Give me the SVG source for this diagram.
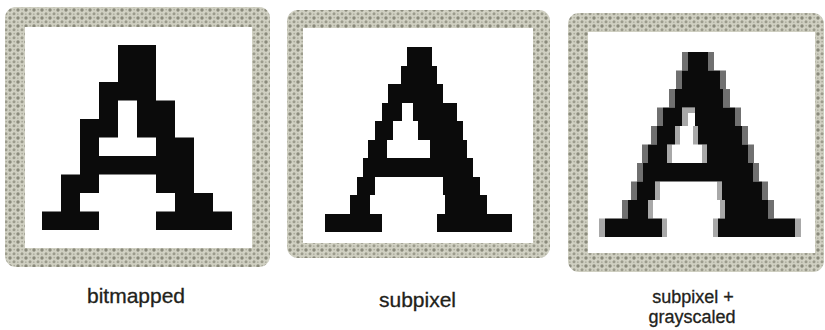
<svg xmlns="http://www.w3.org/2000/svg" width="825" height="330" viewBox="0 0 825 330">
<style>
.frame{fill:url(#tex)}
.inner{fill:#ffffff}
.ink{fill:#0b0b0b}
.g1{fill:#707070}
.g2{fill:#a8a8a8}
.label{font-family:"Liberation Sans",Arial,sans-serif;fill:#22221a;text-anchor:middle;stroke:#22221a;stroke-width:0.3}
</style>
<defs>
<pattern id="tex" width="8" height="8" patternUnits="userSpaceOnUse">
<rect width="8" height="8" fill="#d0d0c2"/>
<circle cx="2" cy="2" r="1.7" fill="#8a8a7b"/>
<circle cx="6" cy="5.8" r="1.5" fill="#9b9b8c"/>
<circle cx="6.2" cy="1.6" r="0.9" fill="#acac9d"/>
<circle cx="1.8" cy="6.2" r="0.9" fill="#b0b0a2"/>
<circle cx="4" cy="4" r="0.5" fill="#e4e4da"/>
</pattern>
</defs>
<rect width="825" height="330" fill="#ffffff"/>

<g id="panel-bitmapped">
<rect class="frame" x="5" y="7" width="265" height="260" rx="11"/>
<rect class="inner" x="25" y="27" width="227" height="221"/>
<path class="ink" transform="translate(42,45) scale(19,18.5)" d="M4 0h2v2h-2z M3 2h3v1h-3z M3 3h1v1h-1z M5 3h2v2h-2z M2 4h2v1h-2z M2 5h1v1h-1z M6 5h2v1h-2z M2 6h6v1h-6z M1 7h2v1h-2z M6 7h2v1h-2z M1 8h1v1h-1z M7 8h2v1h-2z M0 9h3v1h-3z M6 9h4v1h-4z"/>
<text class="label" x="136" y="302.5" font-size="21">bitmapped</text>
</g>

<g id="panel-subpixel">
<rect class="frame" x="287" y="10" width="263" height="248" rx="11"/>
<rect class="inner" x="303" y="28" width="230" height="215"/>
<path class="ink" d="M407 47H432V66H407Z M401 66H437V84H401Z M388 84H443V103H388Z M382 103H402V121H382Z M413 103H457V121H413Z M375 121H393V140H375Z M418 121H463V140H418Z M368 140H387V158H368Z M430 140H467V158H430Z M363 158H473V177H363Z M357 177H375V195H357Z M443 177H480V195H443Z M350 195H370V214H350Z M445 195H487V214H445Z M325 214H382V232H325Z M437 214H512V232H437Z"/>
<text class="label" x="417.5" y="307" font-size="21">subpixel</text>
</g>

<g id="panel-grayscaled">
<rect class="frame" x="568" y="13" width="256" height="259" rx="11"/>
<rect class="inner" x="588" y="32" width="227" height="221"/>
<path class="g1" d="M682 52H688V70.5H682Z M708 52H714V70.5H708Z M676 70.5H682V89H676Z M720 70.5H726V89H720Z M669 89H675V107.5H669Z M723 89H730V107.5H723Z M657 107.5H663V126H657Z M735 107.5H741V126H735Z M651 126H657V144.5H651Z M742 126H748V144.5H742Z M642 144.5H648V163H642Z M748 144.5H754V163H748Z M637 163H643V181.5H637Z M753 163H759V181.5H753Z M631 181.5H637V200H631Z M762 181.5H768V200H762Z M622 200H628V218.5H622Z M768 200H774V218.5H768Z"/>
<path class="g2" d="M682 107.5H688V126H682Z M688 107.5H695V113H688Z M675 126H680V144.5H675Z M693 126H698V144.5H693Z M667 144.5H672V163H667Z M702 144.5H707V163H702Z M655 181.5H660V200H655Z M717 181.5H722V200H717Z M648 200H653V218.5H648Z M720 200H725V218.5H720Z M599 218.5H605V237H599Z M795 218.5H801V237H795Z M662 218.5H667V237H662Z M713 218.5H718V237H713Z"/>
<path class="ink" d="M688 52H708V70.5H688Z M682 70.5H720V89H682Z M675 89H723V107.5H675Z M663 107.5H682V126H663Z M695 107.5H735V126H695Z M657 126H675V144.5H657Z M698 126H742V144.5H698Z M648 144.5H667V163H648Z M707 144.5H748V163H707Z M643 163H753V181.5H643Z M637 181.5H655V200H637Z M722 181.5H762V200H722Z M628 200H648V218.5H628Z M725 200H768V218.5H725Z M605 218.5H662V237H605Z M718 218.5H795V237H718Z"/>
<text class="label" x="693" y="302.5" font-size="18">subpixel +</text>
<text class="label" x="692" y="323" font-size="18">grayscaled</text>
</g>
</svg>
